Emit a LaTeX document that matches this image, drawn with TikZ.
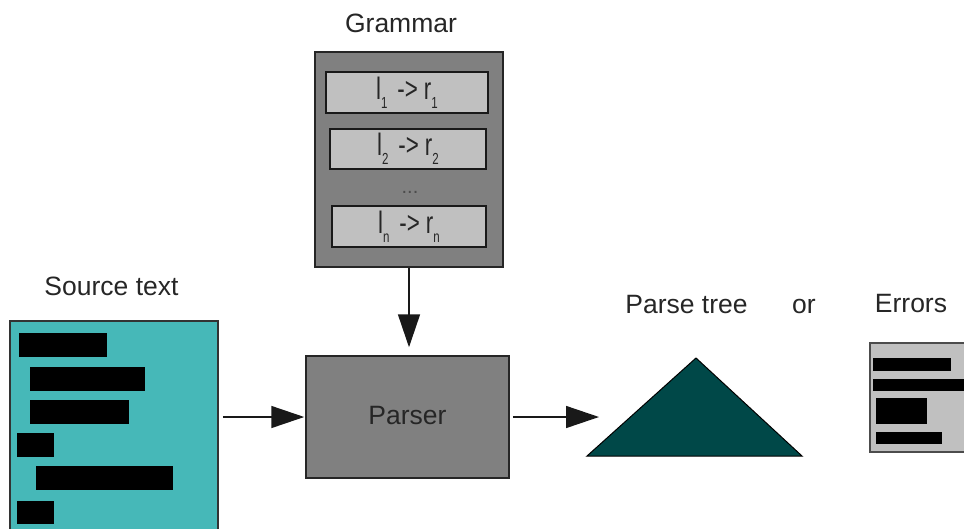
\documentclass[tikz,border=0pt]{standalone}
\usepackage{fontspec}
\setmainfont{Liberation Sans}
\usetikzlibrary{arrows.meta,calc}
\definecolor{boxgray}{HTML}{808080}
\definecolor{rulegray}{HTML}{C0C0C0}
\definecolor{srcteal}{HTML}{46B8B8}
\definecolor{treeteal}{HTML}{004848}
% subscript of a grammar rule symbol
\newcommand{\rulesub}[1]{\raisebox{-9pt}{\fontsize{16}{16}\selectfont #1}}
% one grammar rule, set in a narrow face
\newcommand{\ruletext}[2]{\scalebox{0.72}[1]{\fontsize{31}{31}\selectfont l\rulesub{#1}\hspace{5pt} -> r\rulesub{#2}}}
\begin{document}
\begin{tikzpicture}[x=1pt,y=-1pt,
  lbl/.style={font=\fontsize{26.5}{26.5}\selectfont, text=black!85, inner sep=0, anchor=base},
  bigbox/.style={draw=black!85, line width=1.5pt, fill=boxgray, inner sep=0},
  rulebox/.style={draw=black!90, line width=1.5pt, fill=rulegray, inner sep=0},
  bar/.style={fill=black, draw=none},
  link/.style={line width=1.5pt, draw=black!90, -{Triangle[length=33pt,width=22pt]}}]
\useasboundingbox (0,0) rectangle (964,528);
\clip (0,0) rectangle (964,528);

% grammar with its rules
\node[lbl] (grammarlbl) at (401,32) {Grammar};
\node[bigbox, minimum width=188pt, minimum height=215pt] (grammar) at (409,159.5) {};
\node[rulebox, minimum width=162pt, minimum height=41pt] (rule1) at (407,92.5) {};
\node[rulebox, minimum width=156pt, minimum height=40pt] (rule2) at (408,149) {};
\node[rulebox, minimum width=154pt, minimum height=41pt] (rulen) at (409,226.5) {};
\node[inner sep=0, text=black!85] at (rule1.center) {\ruletext{1}{1}};
\node[inner sep=0, text=black!85] at (rule2.center) {\ruletext{2}{2}};
\node[inner sep=0, text=black!85] at (rulen.center) {\ruletext{n}{n}};
\node[inner sep=0, text=black!70, anchor=base, font=\fontsize{20}{20}\selectfont] (dots) at (410,193) {...};

% source text
\node[lbl] (srclbl) at (111.5,295) {Source text};
\node[draw=black!80, line width=1.5pt, fill=srcteal, inner sep=0,
      minimum width=208pt, minimum height=224pt] (src) at (114,433) {};
\fill[bar] (19,333) rectangle (107,357);
\fill[bar] (30,367) rectangle (145,391);
\fill[bar] (30,400) rectangle (129,424);
\fill[bar] (17,433) rectangle (54,457);
\fill[bar] (36,466) rectangle (173,490);
\fill[bar] (17,501) rectangle (54,524);

% parser
\node[bigbox, minimum width=203pt, minimum height=122pt,
      font=\fontsize{26.5}{26.5}\selectfont, text=black!85,
      text height=19pt, text depth=5pt] (parser) at (407.5,417) {Parser};

% parse tree
\node[lbl] (treelbl) at (686.5,313) {Parse tree};
\node[lbl] (orlbl) at (804,313) {or};
\coordinate (treeleft) at (587,456);
\coordinate (treetop) at (696,358);
\coordinate (treeright) at (802,456);
\coordinate (treein) at (599,417);
\filldraw[fill=treeteal, draw=black, line width=1pt] (treeleft) -- (treetop) -- (treeright) -- cycle;

% errors
\node[lbl] (errlbl) at (911,312) {Errors};
\node[draw=black!70, line width=2pt, fill=rulegray, inner sep=0,
      minimum width=110pt, minimum height=109pt] (errors) at (925,397.5) {};
\fill[bar] (873,358) rectangle (951,371);
\fill[bar] (873,379) rectangle (975,391);
\fill[bar] (876,398) rectangle (927,424);
\fill[bar] (876,432) rectangle (942,444);

% connectors
\draw[link, shorten >=8pt] (grammar.south) -- (grammar.south |- parser.north);
\draw[link, shorten <=4pt, shorten >=1pt] (src.east |- parser.west) -- (parser.west);
\draw[link, shorten <=3pt] (parser.east) -- (treein);
\end{tikzpicture}
\end{document}
